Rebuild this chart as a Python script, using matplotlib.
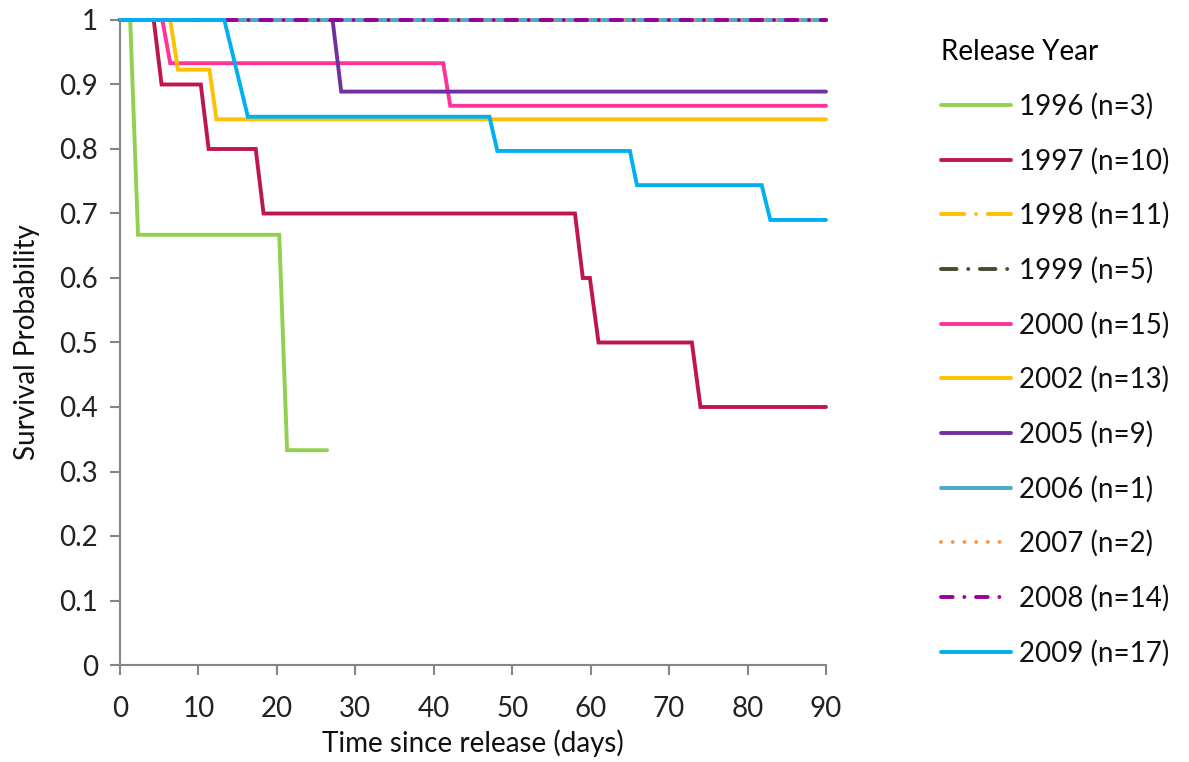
import matplotlib.pyplot as plt

plt.rcParams['font.family'] = ['Lato', 'DejaVu Sans']

# survival curves (x in days, y = survival probability)
x1996 = [0, 1.3, 2.3, 20.3, 21.3, 26.4]
y1996 = [1, 1, 0.667, 0.667, 0.333, 0.333]

x1997 = [0, 4.3, 5.3, 10.3, 11.3, 17.3, 18.3, 58.0, 59.0, 59.9, 61.0, 72.9, 74.0, 90]
y1997 = [1, 1, 0.9, 0.9, 0.8, 0.8, 0.7, 0.7, 0.6, 0.6, 0.5, 0.5, 0.4, 0.4]

x_flat = [0, 90]
y_flat = [1, 1]

x2000 = [0, 5.4, 6.4, 41.2, 42.1, 90]
y2000 = [1, 1, 0.933, 0.933, 0.867, 0.867]

x2002 = [0, 6.4, 7.4, 11.4, 12.3, 90]
y2002 = [1, 1, 0.923, 0.923, 0.846, 0.846]

x2005 = [0, 27.1, 28.2, 90]
y2005 = [1, 1, 0.889, 0.889]

x2009 = [0, 13.3, 16.3, 47.1, 48.1, 65.0, 65.9, 81.8, 82.9, 90]
y2009 = [1, 1, 0.85, 0.85, 0.797, 0.797, 0.744, 0.744, 0.69, 0.69]

labels = ['1996 (n=3)', '1997 (n=10)', '1998 (n=11)', '1999 (n=5)', '2000 (n=15)',
          '2002 (n=13)', '2005 (n=9)', '2006 (n=1)', '2007 (n=2)', '2008 (n=14)',
          '2009 (n=17)']

fig = plt.figure(figsize=(11.89, 7.62), dpi=100)
ax = fig.add_axes([120 / 1189, 97 / 762, 706 / 1189, 645 / 762])

lw = 2.8
series = [
    (x1996, y1996, '#92d050', '-'),
    (x1997, y1997, '#c0174b', '-'),
    (x_flat, y_flat, '#ffc000', (0, (6, 3, 0.01, 3))),
    (x_flat, y_flat, '#4a4a2e', (0, (4, 3, 0.01, 3))),
    (x2000, y2000, '#ff3399', '-'),
    (x2002, y2002, '#ffc000', '-'),
    (x2005, y2005, '#7030a0', '-'),
    (x_flat, y_flat, '#4bacc6', '-'),
    (x_flat, y_flat, '#f79646', (0, (0.01, 3.0))),
    (x_flat, y_flat, '#990099', (0, (3, 3, 0.01, 3))),
    (x2009, y2009, '#00b0f0', '-'),
]
for (xs, ys, c, ls), lab in zip(series, labels):
    ax.plot(xs, ys, color=c, linestyle=ls, linewidth=lw, label=lab,
            clip_on=False, solid_capstyle='round', dash_capstyle='round',
            solid_joinstyle='miter')

ax.set_xlim(0, 90)
ax.set_ylim(0, 1)
ax.set_xticks(range(0, 91, 10))
ax.set_yticks([i / 10 for i in range(11)])
ax.set_yticklabels(['0', '0.1', '0.2', '0.3', '0.4', '0.5', '0.6', '0.7', '0.8', '0.9', '1'])
for s in ['top', 'right']:
    ax.spines[s].set_visible(False)
for s in ['left', 'bottom']:
    ax.spines[s].set_color('#868686')
    ax.spines[s].set_linewidth(1.5)
ax.tick_params(direction='out', length=7, width=1.5, color='#868686',
               labelsize=20, labelcolor='#222222')
ax.tick_params(axis='x', pad=15)
ax.tick_params(axis='y', pad=9)
ax.set_xlabel('Time since release (days)', fontsize=20, color='#111111', labelpad=6)
ax.set_ylabel('Survival Probability', fontsize=20, color='#111111', labelpad=14)

handles, labs = ax.get_legend_handles_labels()
leg = fig.legend(handles, labs, loc='upper left', bbox_to_anchor=(930 / 1189, 1 - 28 / 762),
                 frameon=False, title='Release Year', fontsize=20, title_fontsize=20,
                 handlelength=2.5, handletextpad=0.3, labelspacing=1.0,
                 alignment='left', borderaxespad=0)
for t in leg.get_texts():
    t.set_color('#111111')

fig.savefig('out.png', dpi=100)
